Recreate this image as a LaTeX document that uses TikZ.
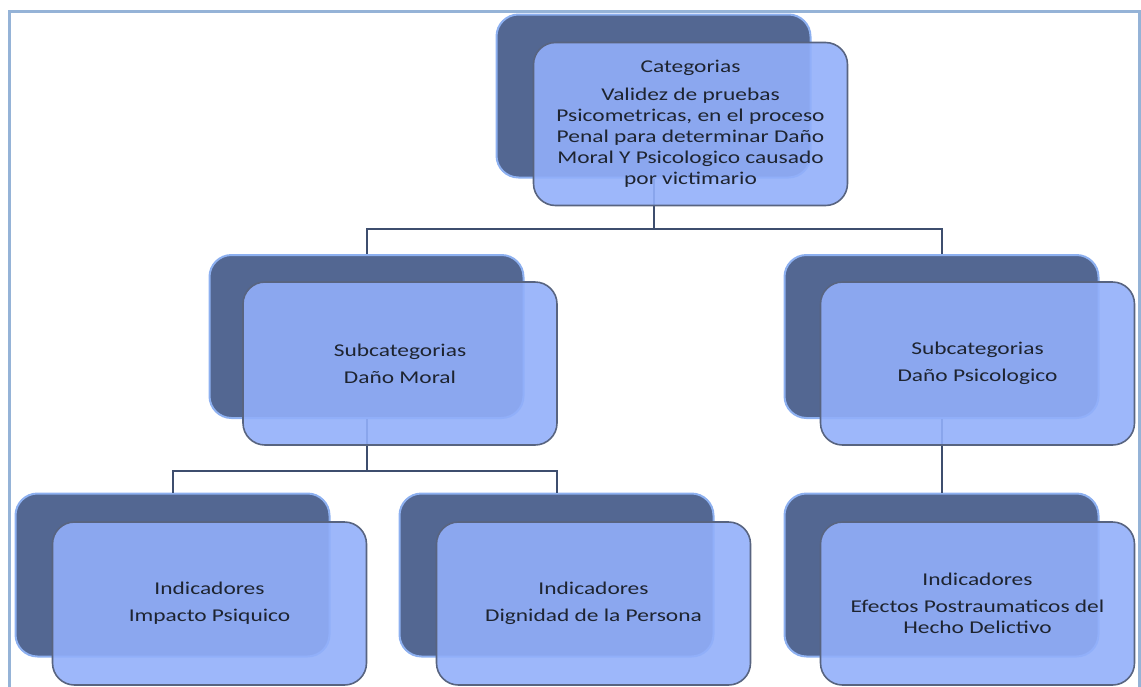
\documentclass[tikz,border=0pt]{standalone}
\usepackage{fontspec}
\setmainfont{Carlito}[FakeStretch=1.3]
\usepackage{tikz}
\definecolor{marco}{RGB}{149,179,215}
\definecolor{fondo}{RGB}{83,103,146}
\definecolor{brillo}{RGB}{141,176,240}
\definecolor{frente}{RGB}{146,175,250}
\definecolor{borde}{RGB}{88,100,128}
\definecolor{linea}{RGB}{62,78,110}
\definecolor{texto}{RGB}{30,36,48}

\begin{document}
\begin{tikzpicture}[x=1pt,y=-1pt,
  atras/.style={draw=brillo, line width=2pt, fill=fondo, rounded corners=22pt,
    minimum width=314pt, minimum height=163pt},
  caja/.style={draw=borde, line width=1.6pt, fill=frente, fill opacity=0.9,
    text opacity=1, rounded corners=22pt, minimum width=314pt, minimum height=163pt,
    align=center, text=texto, font=\fontsize{18}{21}\selectfont},
  enlace/.style={draw=linea, line width=2pt}]
\clip (0,0) rectangle (1141,686);
\draw [marco, line width=3pt] (9,11) rectangle (1139,720);
% cajas de atras
\node [atras] (catb) at (653.5,96) {};
\node [atras] (moralb) at (366.5,336.5) {};
\node [atras] (psicb) at (941.5,336.5) {};
\node [atras] (impb) at (172.5,575) {};
\node [atras] (dignb) at (556.5,575) {};
\node [atras] (efecb) at (941.5,575) {};
% conectores
\draw [enlace] (catb.south) -- ++(0,50) -| (moralb.north);
\draw [enlace] (catb.south) -- ++(0,50) -| (psicb.north);
\draw [enlace] (moralb.south) -- ++(0,52) -| (impb.north);
\draw [enlace] (moralb.south) -- ++(0,52) -| (dignb.north);
\draw [enlace] (psicb.south) -- (efecb.north);
% cajas de frente
\node [caja] (cat) at (690.5,124) {Categorias\\[7pt]Validez de pruebas\\Psicometricas, en el proceso\\Penal para determinar Daño\\Moral Y Psicologico causado\\por victimario};
\node [caja] (moral) at (400,363.5) {Subcategorias\\[6pt]Daño Moral};
\node [caja] (psic) at (977.5,363.5) {Subcategorias\\[6pt]Daño Psicologico};
\node [caja] (imp) at (209.5,603.5) {Indicadores\\[6pt]Impacto Psiquico};
\node [caja] (dign) at (593.5,603.5) {Indicadores\\[6pt]Dignidad de la Persona};
\node [caja] (efec) at (977.5,603.5) {Indicadores\\[6pt]Efectos Postraumaticos del\\Hecho Delictivo};
\end{tikzpicture}
\end{document}
